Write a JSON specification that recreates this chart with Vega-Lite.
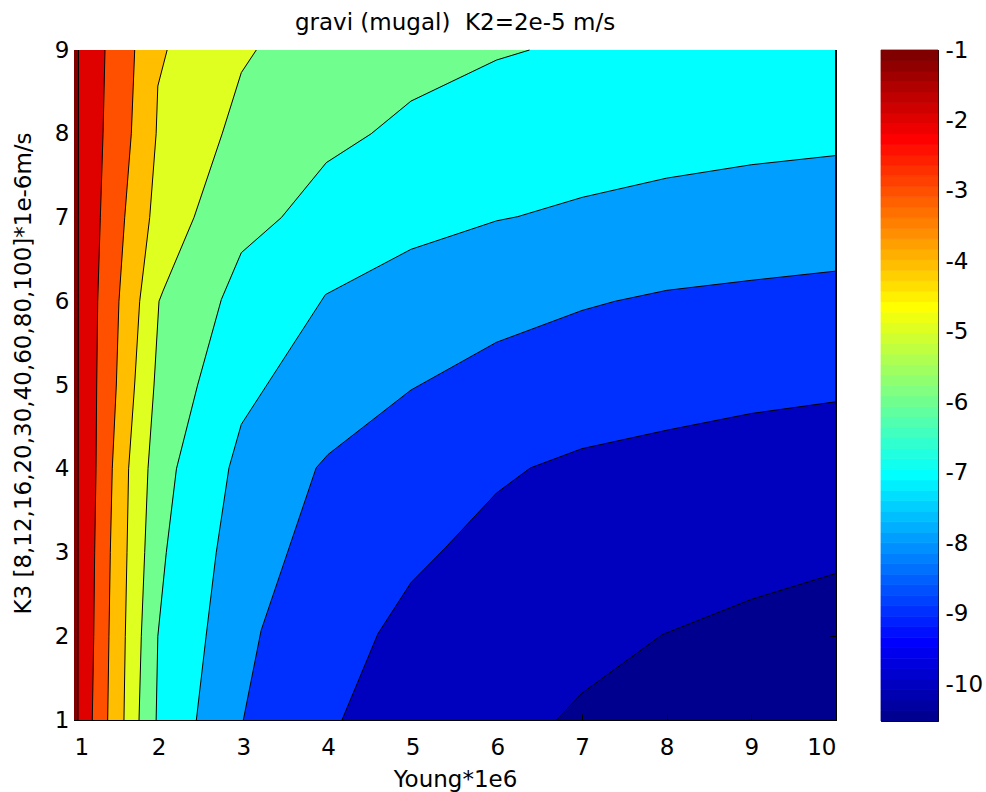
{
  "$schema": "https://vega.github.io/schema/vega-lite/v6.json",
  "padding": {"left": 11, "top": 11, "right": 0, "bottom": 0},
  "background": "white",
  "config": {
    "font": "DejaVu Sans",
    "view": {"stroke": "black", "strokeWidth": 1},
    "axis": {
      "labelFont": "DejaVu Sans", "labelFontSize": 23, "labelColor": "black",
      "titleFont": "DejaVu Sans", "titleFontSize": 23, "titleFontWeight": "normal", "titleColor": "black",
      "domainColor": "black", "domainWidth": 1, "tickColor": "black", "tickWidth": 1, "tickSize": -6,
      "grid": false
    },
    "title": {"font": "DejaVu Sans", "fontSize": 23, "fontWeight": "normal", "color": "black"}
  },
  "datasets": {
    "contours": [
      {"level": -10, "x": 6.70, "y": 1}, {"level": -10, "x": 7.0, "y": 1.32}, {"level": -10, "x": 7.95, "y": 2.02}, {"level": -10, "x": 9, "y": 2.44}, {"level": -10, "x": 10, "y": 2.75}, {"level": -10, "x": 10, "y": 9},
      {"level": -9, "x": 4.165, "y": 1}, {"level": -9, "x": 4.59, "y": 2.03}, {"level": -9, "x": 4.98, "y": 2.64}, {"level": -9, "x": 5.38, "y": 3.05}, {"level": -9, "x": 5.99, "y": 3.71}, {"level": -9, "x": 6.39, "y": 4.01}, {"level": -9, "x": 7.0, "y": 4.24}, {"level": -9, "x": 8, "y": 4.46}, {"level": -9, "x": 9, "y": 4.66}, {"level": -9, "x": 10, "y": 4.8}, {"level": -9, "x": 10, "y": 9},
      {"level": -8, "x": 3.0, "y": 1}, {"level": -8, "x": 3.21, "y": 2.07}, {"level": -8, "x": 3.86, "y": 4.01}, {"level": -8, "x": 4.0, "y": 4.17}, {"level": -8, "x": 4.98, "y": 4.94}, {"level": -8, "x": 5.99, "y": 5.51}, {"level": -8, "x": 7.0, "y": 5.89}, {"level": -8, "x": 7.39, "y": 6.0}, {"level": -8, "x": 8, "y": 6.13}, {"level": -8, "x": 9, "y": 6.25}, {"level": -8, "x": 10, "y": 6.36}, {"level": -8, "x": 10, "y": 9},
      {"level": -7, "x": 2.445, "y": 1}, {"level": -7, "x": 2.56, "y": 2}, {"level": -7, "x": 2.68, "y": 3}, {"level": -7, "x": 2.83, "y": 4.01}, {"level": -7, "x": 2.976, "y": 4.53}, {"level": -7, "x": 3.97, "y": 6.08}, {"level": -7, "x": 4.98, "y": 6.62}, {"level": -7, "x": 5.99, "y": 6.96}, {"level": -7, "x": 6.24, "y": 7.01}, {"level": -7, "x": 7.0, "y": 7.24}, {"level": -7, "x": 8, "y": 7.47}, {"level": -7, "x": 9, "y": 7.63}, {"level": -7, "x": 10, "y": 7.74}, {"level": -7, "x": 10, "y": 9},
      {"level": -6, "x": 1.97, "y": 1}, {"level": -6, "x": 1.99, "y": 2}, {"level": -6, "x": 2.09, "y": 3}, {"level": -6, "x": 2.21, "y": 4}, {"level": -6, "x": 2.46, "y": 5}, {"level": -6, "x": 2.74, "y": 6.02}, {"level": -6, "x": 2.976, "y": 6.58}, {"level": -6, "x": 3.45, "y": 7}, {"level": -6, "x": 3.98, "y": 7.655}, {"level": -6, "x": 4.51, "y": 8}, {"level": -6, "x": 4.98, "y": 8.39}, {"level": -6, "x": 5.99, "y": 8.88}, {"level": -6, "x": 6.38, "y": 9},
      {"level": -5, "x": 1.768, "y": 1}, {"level": -5, "x": 1.795, "y": 2}, {"level": -5, "x": 1.835, "y": 3}, {"level": -5, "x": 1.874, "y": 4}, {"level": -5, "x": 1.945, "y": 5}, {"level": -5, "x": 2.004, "y": 6}, {"level": -5, "x": 2.05, "y": 6.12}, {"level": -5, "x": 2.417, "y": 7}, {"level": -5, "x": 2.75, "y": 8}, {"level": -5, "x": 2.976, "y": 8.73}, {"level": -5, "x": 3.153, "y": 9},
      {"level": -4, "x": 1.59, "y": 1}, {"level": -4, "x": 1.606, "y": 2}, {"level": -4, "x": 1.626, "y": 3}, {"level": -4, "x": 1.645, "y": 4}, {"level": -4, "x": 1.716, "y": 5}, {"level": -4, "x": 1.776, "y": 6}, {"level": -4, "x": 1.894, "y": 7}, {"level": -4, "x": 1.97, "y": 8}, {"level": -4, "x": 1.99, "y": 8.57}, {"level": -4, "x": 2.10, "y": 9},
      {"level": -3, "x": 1.398, "y": 1}, {"level": -3, "x": 1.413, "y": 2}, {"level": -3, "x": 1.429, "y": 3}, {"level": -3, "x": 1.452, "y": 4}, {"level": -3, "x": 1.5, "y": 5}, {"level": -3, "x": 1.531, "y": 6}, {"level": -3, "x": 1.599, "y": 7}, {"level": -3, "x": 1.677, "y": 8}, {"level": -3, "x": 1.717, "y": 9},
      {"level": -2, "x": 1.216, "y": 1}, {"level": -2, "x": 1.233, "y": 2}, {"level": -2, "x": 1.244, "y": 3}, {"level": -2, "x": 1.26, "y": 4}, {"level": -2, "x": 1.268, "y": 5}, {"level": -2, "x": 1.28, "y": 6}, {"level": -2, "x": 1.311, "y": 7}, {"level": -2, "x": 1.343, "y": 8}, {"level": -2, "x": 1.366, "y": 9},
      {"level": -1, "x": 1.047, "y": 1}, {"level": -1, "x": 1.05, "y": 5}, {"level": -1, "x": 1.053, "y": 9}
    ],
    "bar": [
      {"i": 1, "lo": -10.52, "hi": -10.371}, {"i": 2, "lo": -10.371, "hi": -10.223}, {"i": 3, "lo": -10.223, "hi": -10.074}, {"i": 4, "lo": -10.074, "hi": -9.925},
      {"i": 5, "lo": -9.925, "hi": -9.776}, {"i": 6, "lo": -9.776, "hi": -9.628}, {"i": 7, "lo": -9.628, "hi": -9.479}, {"i": 8, "lo": -9.479, "hi": -9.33},
      {"i": 9, "lo": -9.33, "hi": -9.181}, {"i": 10, "lo": -9.181, "hi": -9.033}, {"i": 11, "lo": -9.033, "hi": -8.884}, {"i": 12, "lo": -8.884, "hi": -8.735},
      {"i": 13, "lo": -8.735, "hi": -8.586}, {"i": 14, "lo": -8.586, "hi": -8.438}, {"i": 15, "lo": -8.438, "hi": -8.289}, {"i": 16, "lo": -8.289, "hi": -8.14},
      {"i": 17, "lo": -8.14, "hi": -7.991}, {"i": 18, "lo": -7.991, "hi": -7.843}, {"i": 19, "lo": -7.843, "hi": -7.694}, {"i": 20, "lo": -7.694, "hi": -7.545},
      {"i": 21, "lo": -7.545, "hi": -7.396}, {"i": 22, "lo": -7.396, "hi": -7.248}, {"i": 23, "lo": -7.248, "hi": -7.099}, {"i": 24, "lo": -7.099, "hi": -6.95},
      {"i": 25, "lo": -6.95, "hi": -6.801}, {"i": 26, "lo": -6.801, "hi": -6.653}, {"i": 27, "lo": -6.653, "hi": -6.504}, {"i": 28, "lo": -6.504, "hi": -6.355},
      {"i": 29, "lo": -6.355, "hi": -6.206}, {"i": 30, "lo": -6.206, "hi": -6.058}, {"i": 31, "lo": -6.058, "hi": -5.909}, {"i": 32, "lo": -5.909, "hi": -5.76},
      {"i": 33, "lo": -5.76, "hi": -5.611}, {"i": 34, "lo": -5.611, "hi": -5.463}, {"i": 35, "lo": -5.463, "hi": -5.314}, {"i": 36, "lo": -5.314, "hi": -5.165},
      {"i": 37, "lo": -5.165, "hi": -5.016}, {"i": 38, "lo": -5.016, "hi": -4.868}, {"i": 39, "lo": -4.868, "hi": -4.719}, {"i": 40, "lo": -4.719, "hi": -4.57},
      {"i": 41, "lo": -4.57, "hi": -4.421}, {"i": 42, "lo": -4.421, "hi": -4.273}, {"i": 43, "lo": -4.273, "hi": -4.124}, {"i": 44, "lo": -4.124, "hi": -3.975},
      {"i": 45, "lo": -3.975, "hi": -3.826}, {"i": 46, "lo": -3.826, "hi": -3.678}, {"i": 47, "lo": -3.678, "hi": -3.529}, {"i": 48, "lo": -3.529, "hi": -3.38},
      {"i": 49, "lo": -3.38, "hi": -3.231}, {"i": 50, "lo": -3.231, "hi": -3.083}, {"i": 51, "lo": -3.083, "hi": -2.934}, {"i": 52, "lo": -2.934, "hi": -2.785},
      {"i": 53, "lo": -2.785, "hi": -2.636}, {"i": 54, "lo": -2.636, "hi": -2.488}, {"i": 55, "lo": -2.488, "hi": -2.339}, {"i": 56, "lo": -2.339, "hi": -2.19},
      {"i": 57, "lo": -2.19, "hi": -2.041}, {"i": 58, "lo": -2.041, "hi": -1.893}, {"i": 59, "lo": -1.893, "hi": -1.744}, {"i": 60, "lo": -1.744, "hi": -1.595},
      {"i": 61, "lo": -1.595, "hi": -1.446}, {"i": 62, "lo": -1.446, "hi": -1.298}, {"i": 63, "lo": -1.298, "hi": -1.149}, {"i": 64, "lo": -1.149, "hi": -1.0}
    ]
  },
  "hconcat": [
    {
      "width": 762,
      "height": 670,
      "title": {"text": "gravi (mugal)\u00a0 K2=2e-5 m/s", "frame": "group", "anchor": "middle", "offset": 4},
      "view": {"fill": "#00008F", "stroke": "black"},
      "data": {"name": "contours"},
      "layer": [
        {
          "mark": {"type": "area", "orient": "horizontal", "opacity": 1},
          "encoding": {
            "y": {"field": "y", "type": "quantitative", "scale": {"domain": [1, 9], "nice": false, "zero": false},
                  "axis": {"orient": "left", "values": [1, 2, 3, 4, 5, 6, 7, 8, 9], "labelPadding": 11,
                           "title": "K3 [8,12,16,20,30,40,60,80,100]*1e-6m/s", "titleX": -44, "titleY": 323, "titleAngle": -90,
                           "titleAlign": "center", "titleBaseline": "alphabetic"}},
            "x": {"field": "x", "type": "quantitative", "stack": null, "scale": {"domain": [1, 10], "nice": false, "zero": false},
                  "axis": {"orient": "bottom", "values": [1, 2, 3, 4, 5, 6, 7, 8, 9, 10], "labelPadding": 22, "title": "Young*1e6", "titlePadding": 9}},
            "x2": {"datum": 1},
            "color": {"field": "level", "type": "ordinal",
                      "scale": {"domain": [-10, -9, -8, -7, -6, -5, -4, -3, -2, -1],
                                "range": ["#0000BF", "#0030FF", "#009FFF", "#00FFFF", "#70FF8F", "#DFFF20", "#FFBF00", "#FF5000", "#DF0000", "#800000"]},
                      "legend": null}
          }
        },
        {
          "mark": {"type": "line", "color": "black", "strokeWidth": 1},
          "encoding": {
            "y": {"field": "y", "type": "quantitative", "axis": {"orient": "right", "values": [1, 2, 3, 4, 5, 6, 7, 8, 9], "labels": false, "title": null}},
            "x": {"field": "x", "type": "quantitative", "axis": {"orient": "top", "values": [1, 2, 3, 4, 5, 6, 7, 8, 9, 10], "labels": false, "title": null}},
            "detail": {"field": "level"},
            "order": {"field": "y"}
          }
        }
      ],
      "resolve": {"axis": {"x": "independent", "y": "independent"}}
    },
    {
      "width": 57,
      "height": 671,
      "view": {"stroke": "black"},
      "data": {"name": "bar"},
      "layer": [
        {
          "mark": {"type": "rect", "strokeWidth": 0.8},
          "encoding": {
            "x": {"datum": 0, "type": "quantitative", "scale": {"domain": [0, 1], "nice": false, "zero": false}, "axis": null},
            "x2": {"datum": 1},
            "y": {"field": "hi", "type": "quantitative", "scale": {"domain": [-10.52, -1.0], "nice": false, "zero": false},
                  "axis": {"orient": "right", "values": [-1, -2, -3, -4, -5, -6, -7, -8, -9, -10], "labelPadding": 13, "title": null, "labelExpr": "'' + datum.value"}},
            "y2": {"field": "lo"},
            "color": {"field": "i", "type": "quantitative",
                      "scale": {"domain": [0, 8, 24, 40, 56, 64], "range": ["#000080", "#0000ff", "#00ffff", "#ffff00", "#ff0000", "#800000"], "interpolate": "rgb"},
                      "legend": null},
            "stroke": {"field": "i", "type": "quantitative",
                      "scale": {"domain": [0, 8, 24, 40, 56, 64], "range": ["#000080", "#0000ff", "#00ffff", "#ffff00", "#ff0000", "#800000"], "interpolate": "rgb"},
                      "legend": null}
          }
        },
        {
          "mark": {"type": "rect", "opacity": 0},
          "encoding": {
            "x": {"datum": 0, "type": "quantitative", "axis": null},
            "x2": {"datum": 1},
            "y": {"field": "hi", "type": "quantitative", "axis": {"orient": "left", "values": [-1, -2, -3, -4, -5, -6, -7, -8, -9, -10], "labels": false, "title": null}},
            "y2": {"field": "lo"}
          }
        }
      ],
      "resolve": {"axis": {"y": "independent"}}
    }
  ],
  "spacing": 41
}
